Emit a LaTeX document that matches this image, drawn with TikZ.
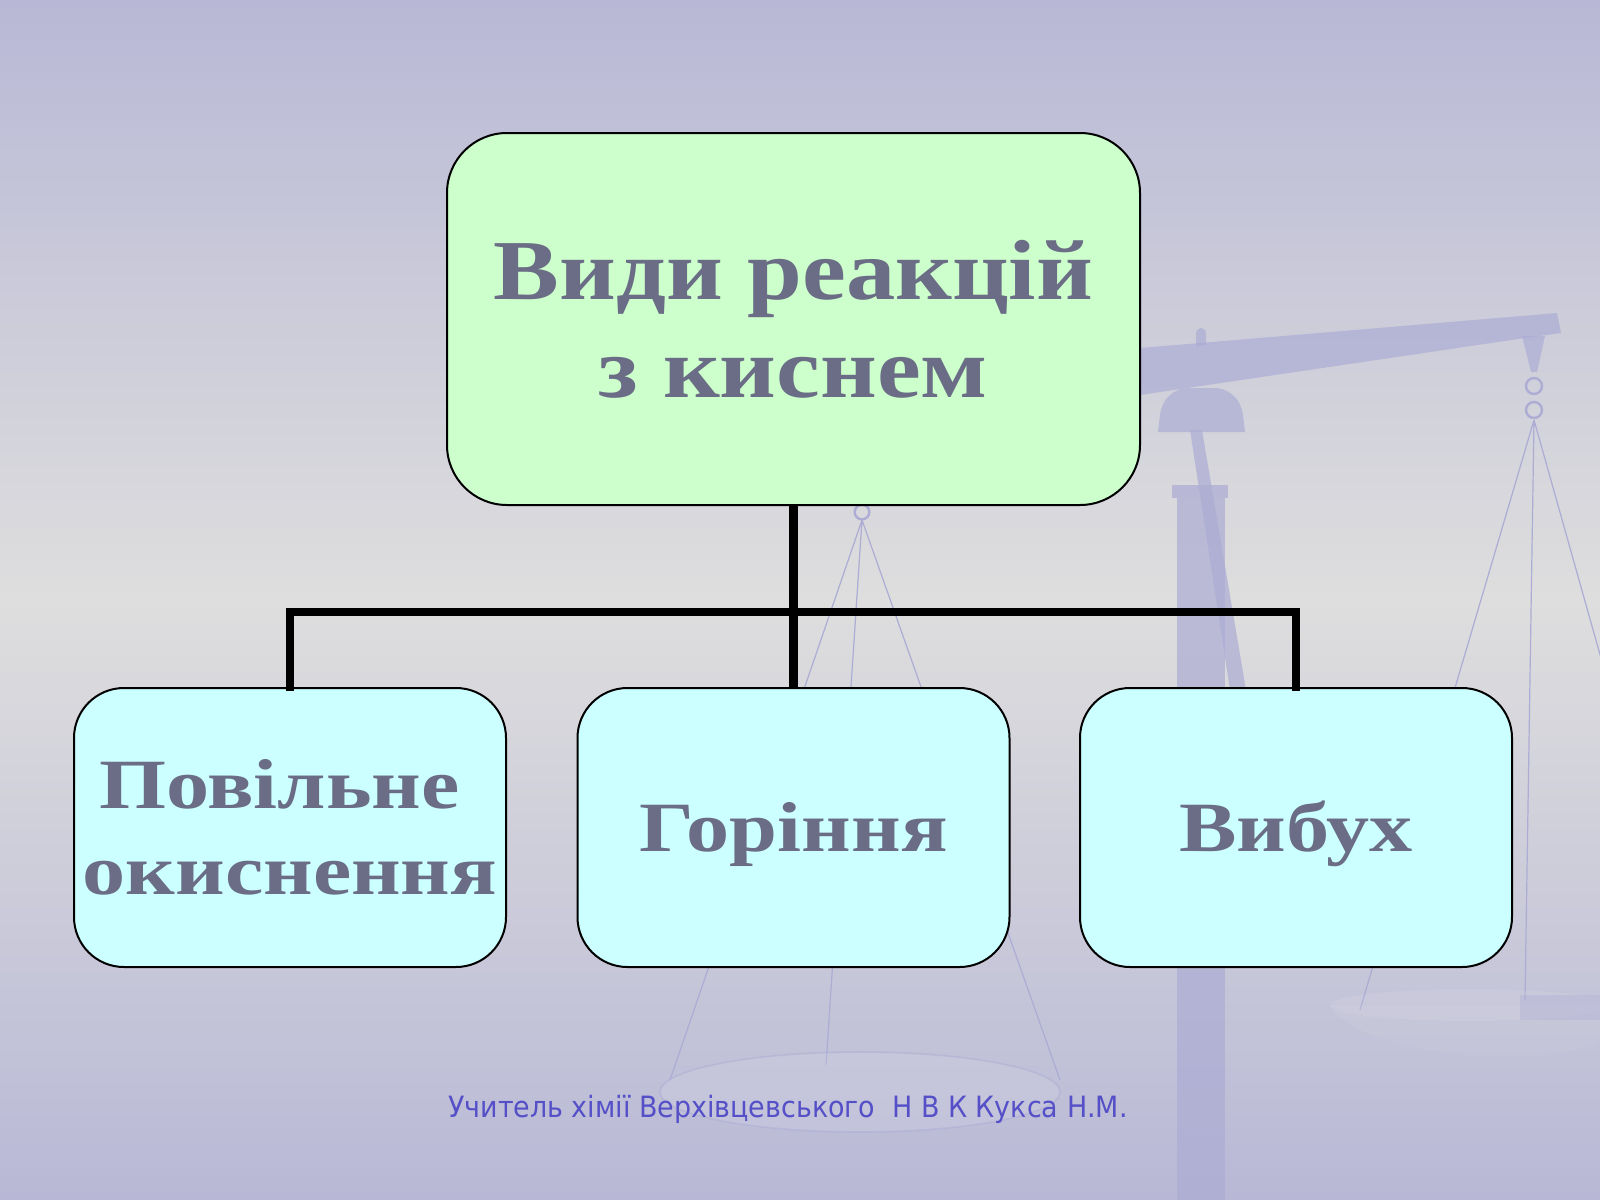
\documentclass[tikz,border=0pt]{standalone}
\usepackage{fontspec}
\setmainfont{Liberation Serif}
\newfontfamily\footfont{DejaVu Sans Condensed}
\definecolor{bgA}{RGB}{184,184,214}
\definecolor{bgB}{RGB}{222,222,222}
\definecolor{txt}{RGB}{106,109,133}
\definecolor{topfill}{RGB}{204,255,204}
\definecolor{botfill}{RGB}{204,255,255}
\definecolor{footc}{RGB}{85,80,200}
\definecolor{scalec}{RGB}{172,172,212}
\newcommand{\wideA}[1]{\scalebox{1.155}[1]{#1}}
\newcommand{\wideB}[1]{\scalebox{1.22}[1]{#1}}
\newcommand{\lowerB}[1]{\raisebox{-5pt}[\height][\depth]{\wideB{#1}}}
\tikzset{
  scalepart/.style={fill=scalec, fill opacity=.7, draw=none},
  scaleline/.style={draw=scalec, line width=0.9pt},
  rootbox/.style={draw=black, line width=1.5pt, fill=topfill, rounded corners=45pt,
     minimum width=519.75pt, minimum height=279pt, inner sep=0pt, align=center,
     text=txt, font=\fontsize{64}{73.5}\selectfont\bfseries},
  kidbox/.style={draw=black, line width=1.5pt, fill=botfill, rounded corners=37.5pt,
     minimum width=324pt, minimum height=209.25pt, inner sep=0pt, align=center,
     text=txt, font=\fontsize{53}{64.5}\selectfont\bfseries},
  link/.style={draw=black, line width=6.5pt},
}
\begin{document}
\begin{tikzpicture}[x=0.75pt, y=-0.75pt]
\useasboundingbox (0,0) rectangle (1600,1200);
% background
\shade[top color=bgA, bottom color=bgA, middle color=bgB] (0,0) rectangle (1600,1200);
% faint balance scale
\fill[scalepart] (1177,498) rectangle (1225,1200);
\fill[scalepart] (1172,485) rectangle (1228,498);
\fill[scalepart] (1190,430) -- (1202,430) -- (1246,690) -- (1230,690) -- cycle;
\fill[scalepart] (1158,432) -- (1245,432) -- (1243,415) .. controls (1240,395) and (1225,388) .. (1215,388) -- (1188,388) .. controls (1175,388) and (1162,398) .. (1160,415) -- cycle;
\fill[scalepart] (1140,348) -- (1557,313) -- (1561,333) -- (1525,338) -- (1140,395) -- cycle;
\fill[scalepart] (1196,346) -- (1196,334) .. controls (1196,326) and (1206,326) .. (1206,334) -- (1206,345) -- cycle;
\fill[scalepart] (1522,336) -- (1545,336) -- (1537,372) -- (1531,372) -- cycle;
\draw[scaleline, line width=1.8pt] (1534,386) circle[radius=6pt] (1534,410) circle[radius=6pt];
\draw[scaleline] (1534,420) -- (1360,1010) (1534,420) -- (1525,1000) (1534,420) -- (1700,1010);
\draw[scaleline, line width=1.8pt] (862,512) circle[radius=5.5pt];
\draw[scaleline] (862,520) -- (670,1080) (862,520) -- (826,1065) (862,520) -- (1060,1080);
\fill[white, fill opacity=.1] (860,1092) ellipse[x radius=150pt, y radius=30pt];
\draw[scalec, line width=1.2pt, opacity=.5] (860,1092) ellipse[x radius=150pt, y radius=30pt];
\fill[white, fill opacity=.05] (1330,1005) .. controls (1360,1060) and (1560,1070) .. (1600,1040) -- (1600,1005) -- cycle;
\fill[white, fill opacity=.07] (1470,1005) ellipse[x radius=105pt, y radius=12pt];
\fill[scalepart, fill opacity=.35] (1520,995) rectangle (1600,1020);
% boxes
\node[rootbox] (root) at (793.5,319) {\wideA{Види реакцій}\\\wideA{з киснем}};
\node[kidbox] (slow) at (290,827.5) {\wideB{Повільне\ }\\\wideB{окиснення}};
\node[kidbox] (burn) at (793.5,827.5) {\lowerB{Горіння}};
\node[kidbox] (blast) at (1296,827.5) {\lowerB{Вибух}};
% connectors
\coordinate (hub) at (793.5,612);
\draw[link] (root.south) -- (hub);
\draw[link] (hub) -- (burn.north);
\draw[link, line cap=rect] (slow.north) |- (hub) -| (blast.north);
% footer
\node[text=footc, font=\footfont\fontsize{22}{26}\selectfont, anchor=base] (foot) at (788,1117)
  {\scalebox{1.02}[1]{Учитель хімії Верхівцевського\ \ Н В К Кукса Н.М.}};
\end{tikzpicture}
\end{document}
